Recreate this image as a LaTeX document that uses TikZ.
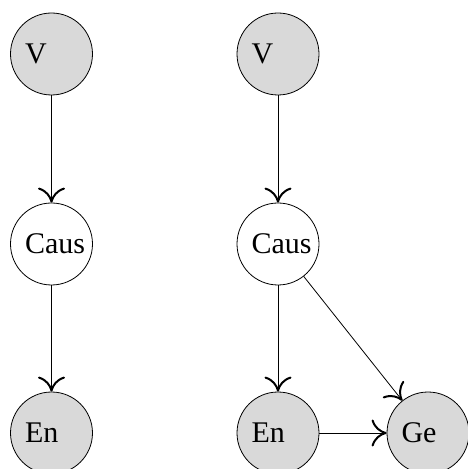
\documentclass[tikz,border=0pt]{standalone}
\usepackage{fontspec}
\setmainfont{Liberation Serif}
\usetikzlibrary{arrows.meta}
\begin{document}
\begin{tikzpicture}[x=1pt,y=1pt,
  var/.style={circle,draw,line width=0.8pt,minimum size=82pt,inner sep=0pt,
    text width=53pt,align=left,font=\fontsize{30}{34}\selectfont},
  obs/.style={var,fill=black!15},
  edge/.style={line width=0.8pt,-{To[length=15pt,width=27pt,line width=2pt]}}]
\useasboundingbox (0,0) rectangle (467,469);
\node[obs] (V1) at (51.5,415) {V};
\node[var] (C1) at (51.5,225) {Caus};
\node[obs] (E1) at (51.5,36) {En};
\node[obs] (V2) at (278,415) {V};
\node[var] (C2) at (278,225) {Caus};
\node[obs] (E2) at (278,36) {En};
\node[obs] (G2) at (428,36) {Ge};
\draw[edge] (V1) -- (C1);
\draw[edge] (C1) -- (E1);
\draw[edge] (V2) -- (C2);
\draw[edge] (C2) -- (E2);
\draw[edge] (C2) -- (G2);
\draw[edge] (E2) -- (G2);
\end{tikzpicture}
\end{document}
